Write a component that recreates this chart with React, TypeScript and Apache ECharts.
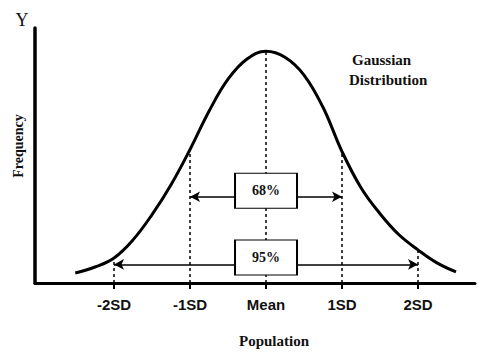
import React, { useEffect, useRef } from "react";
import * as echarts from "echarts";

// Curve: position in standard deviations, relative frequency
const zVals = [-2.51, -2.25, -2, -1.75, -1.5, -1.25, -1, -0.75, -0.5, -0.25, 0, 0.25, 0.5, 0.75, 1, 1.25, 1.5, 1.75, 2, 2.25, 2.5];
const freq = [0.043, 0.069, 0.108, 0.186, 0.295, 0.424, 0.576, 0.741, 0.879, 0.966, 1.0, 0.974, 0.897, 0.758, 0.567, 0.411, 0.299, 0.208, 0.143, 0.087, 0.048];

const sdTicks = [-2, -1, 0, 1, 2];
const tickLabels = ["-2SD", "-1SD", "Mean", "1SD", "2SD"];

const rangeLabels = ["68%", "95%"];
const rangeSD = [1, 2];
const arrowLevels = [0.372, 0.08];
const boxLevels = [0.398, 0.11];

const freqAt = (z: number) => {
  const i = zVals.indexOf(z);
  return i >= 0 ? freq[i] : 0;
};

export default function App() {
  const ref = useRef<HTMLDivElement>(null);
  useEffect(() => {
    if (!ref.current) return;
    document.body.style.margin = "0";
    const chart = echarts.init(ref.current, null, { renderer: "svg" });
    const serif = "'Liberation Serif', 'DejaVu Serif', serif";
    const sans = "'Liberation Sans Narrow', 'Liberation Sans', Arial, sans-serif";
    chart.setOption({
      animation: false,
      backgroundColor: "#ffffff",
      grid: { left: 35, top: 28, right: 3, bottom: 70, containLabel: false },
      xAxis: {
        type: "value",
        min: -3.04,
        max: 2.75,
        splitLine: { show: false },
        axisLine: { show: true, onZero: false, lineStyle: { color: "#000", width: 3 } },
        axisTick: { show: true, customValues: sdTicks, length: 6, lineStyle: { color: "#000", width: 2 } },
        axisLabel: {
          show: true,
          customValues: sdTicks,
          margin: 14,
          color: "#111",
          fontFamily: sans,
          fontWeight: "bold",
          fontSize: 15,
          formatter: (v: number) => tickLabels[sdTicks.indexOf(Math.round(v))] ?? "",
        },
      },
      yAxis: {
        type: "value",
        min: 0,
        max: 1.1,
        splitLine: { show: false },
        axisLine: { show: true, onZero: false, lineStyle: { color: "#000", width: 3.5 } },
        axisTick: { show: false },
        axisLabel: { show: false },
      },
      graphic: [
        { type: "text", x: 22, y: 20, style: { text: "Y", font: `18px ${serif}`, fill: "#111", textAlign: "center", textVerticalAlign: "middle" } },
        { type: "text", x: 18, y: 146, rotation: Math.PI / 2, style: { text: "Frequency", font: `bold 14px ${serif}`, fill: "#111", textAlign: "center", textVerticalAlign: "middle" } },
        { type: "text", x: 274, y: 341, style: { text: "Population", font: `bold 15px ${serif}`, fill: "#111", textAlign: "center", textVerticalAlign: "middle" } },
        { type: "text", x: 352, y: 60, style: { text: "Gaussian", font: `bold 15px ${serif}`, fill: "#111", textAlign: "left", textVerticalAlign: "middle" } },
        { type: "text", x: 349, y: 80, style: { text: "Distribution", font: `bold 15px ${serif}`, fill: "#111", textAlign: "left", textVerticalAlign: "middle" } },
      ],
      series: [
        {
          name: "guides",
          type: "line",
          data: [],
          z: 1,
          markLine: {
            silent: true,
            symbol: "none",
            label: { show: false },
            lineStyle: { color: "#000", width: 1.5, type: [3, 3] },
            data: sdTicks.map((z) => [
              { coord: [z, 0] },
              { coord: [z, freqAt(z)] },
            ]),
          },
        },
        {
          name: "arrows",
          type: "line",
          data: [],
          z: 2,
          markLine: {
            silent: true,
            symbol: ["arrow", "arrow"],
            symbolSize: [8, 10],
            label: { show: false },
            lineStyle: { color: "#000", width: 1.5, type: "solid" },
            data: rangeSD.map((s, i) => [
              { coord: [-s, arrowLevels[i]] },
              { coord: [s, arrowLevels[i]] },
            ]),
          },
        },
        {
          name: "curve",
          type: "line",
          data: zVals.map((z, i) => [z, freq[i]]),
          smooth: 0.4,
          showSymbol: false,
          symbol: "none",
          z: 3,
          lineStyle: { color: "#000", width: 3 },
        },
        {
          name: "boxes",
          type: "scatter",
          z: 5,
          symbol: "rect",
          symbolSize: [62, 35],
          itemStyle: { color: "#fff", borderColor: "#000", borderWidth: 1.5, opacity: 1 },
          label: {
            show: true,
            position: "inside",
            formatter: (p: any) => rangeLabels[p.dataIndex],
            color: "#111",
            fontFamily: serif,
            fontSize: 14,
            fontWeight: "bold",
          },
          data: boxLevels.map((y) => [0, y]),
        },
      ],
    });
    return () => chart.dispose();
  }, []);
  return <div ref={ref} style={{ width: 478, height: 353 }} />;
}
